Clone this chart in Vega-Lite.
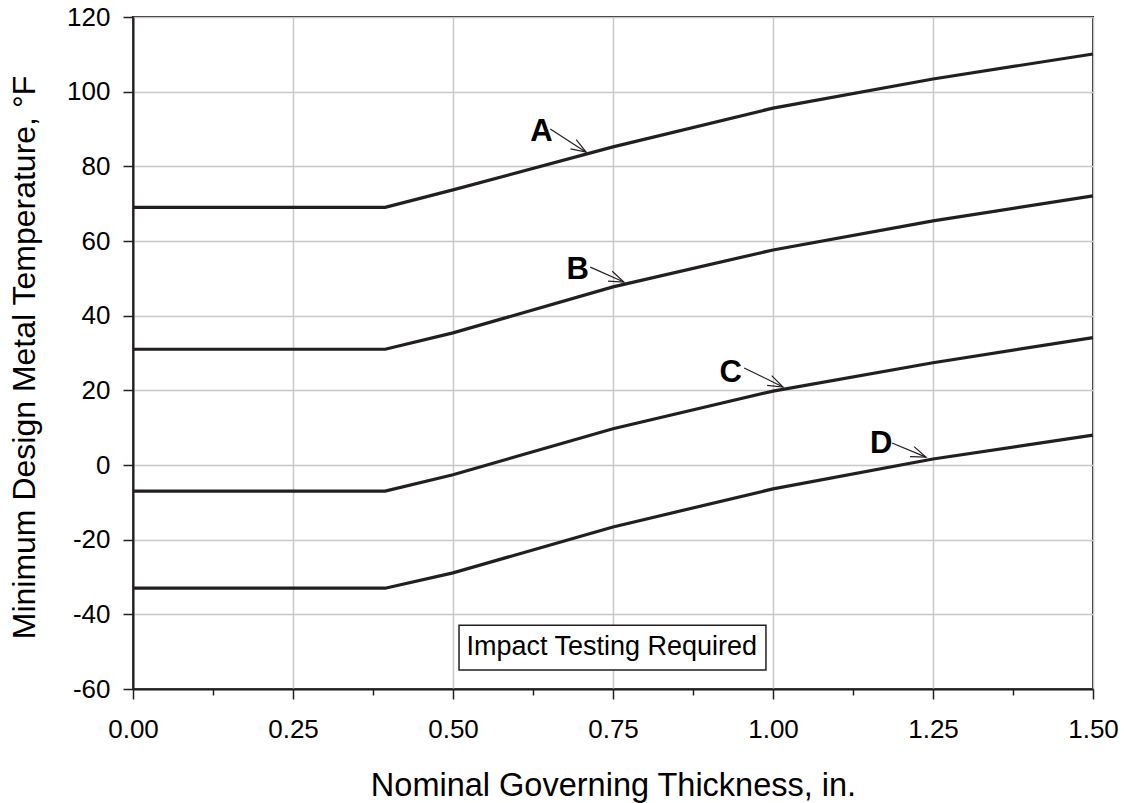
{
  "$schema": "https://vega.github.io/schema/vega-lite/v6.json",
  "width": 960,
  "height": 672,
  "autosize": {"type": "none"},
  "padding": {"left": 133, "top": 17, "right": 31, "bottom": 114},
  "background": "white",
  "config": {
    "view": {"stroke": "#231f20", "strokeWidth": 2},
    "font": "Liberation Sans"
  },
  "datasets": {
    "curves": [
      {"curve": "A", "t": 0, "T": 69}, {"curve": "A", "t": 0.394, "T": 69}, {"curve": "A", "t": 0.5, "T": 73.7}, {"curve": "A", "t": 0.75, "T": 85.2}, {"curve": "A", "t": 1.0, "T": 95.6}, {"curve": "A", "t": 1.25, "T": 103.4}, {"curve": "A", "t": 1.5, "T": 110.1},
      {"curve": "B", "t": 0, "T": 31}, {"curve": "B", "t": 0.394, "T": 31}, {"curve": "B", "t": 0.5, "T": 35.4}, {"curve": "B", "t": 0.75, "T": 47.7}, {"curve": "B", "t": 1.0, "T": 57.6}, {"curve": "B", "t": 1.25, "T": 65.4}, {"curve": "B", "t": 1.5, "T": 72.1},
      {"curve": "C", "t": 0, "T": -7}, {"curve": "C", "t": 0.394, "T": -7}, {"curve": "C", "t": 0.5, "T": -2.6}, {"curve": "C", "t": 0.75, "T": 9.7}, {"curve": "C", "t": 1.0, "T": 19.8}, {"curve": "C", "t": 1.25, "T": 27.4}, {"curve": "C", "t": 1.5, "T": 34.1},
      {"curve": "D", "t": 0, "T": -33}, {"curve": "D", "t": 0.394, "T": -33}, {"curve": "D", "t": 0.5, "T": -28.9}, {"curve": "D", "t": 0.75, "T": -16.6}, {"curve": "D", "t": 1.0, "T": -6.4}, {"curve": "D", "t": 1.25, "T": 1.6}, {"curve": "D", "t": 1.5, "T": 8.0}
    ],
    "arrows": [
      {"label": "A", "lx": 0.638, "ly": 89.1, "x0": 0.652, "y0": 90.0, "x1": 0.708, "y1": 83.8, "dir": 31.9},
      {"label": "B", "lx": 0.695, "ly": 52.2, "x0": 0.7145, "y0": 53.0, "x1": 0.767, "y1": 49.0, "dir": 23.2},
      {"label": "C", "lx": 0.934, "ly": 24.6, "x0": 0.955, "y0": 26.0, "x1": 1.0156, "y1": 20.9, "dir": 25.4},
      {"label": "D", "lx": 1.169, "ly": 5.6, "x0": 1.186, "y0": 5.9, "x1": 1.239, "y1": 2.1, "dir": 21.8}
    ],
    "box": [
      {"text": "Impact Testing Required", "bx1": 0.5094, "bx2": 0.989, "by1": -42.9, "by2": -54.9, "tx": 0.748, "ty": -48.8}
    ]
  },
  "layer": [
    {
      "data": {"name": "curves"},
      "mark": {"type": "line", "color": "#231f20", "strokeWidth": 3.2},
      "encoding": {
        "x": {
          "field": "t", "type": "quantitative",
          "scale": {"domain": [0, 1.5], "nice": false, "zero": false},
          "axis": {
            "title": "Nominal Governing Thickness, in.",
            "values": [0, 0.0625, 0.125, 0.1875, 0.25, 0.3125, 0.375, 0.4375, 0.5, 0.5625, 0.625, 0.6875, 0.75, 0.8125, 0.875, 0.9375, 1, 1.0625, 1.125, 1.1875, 1.25, 1.3125, 1.375, 1.4375, 1.5],
            "labelExpr": "abs(datum.value*4-round(datum.value*4))<0.001 ? format(datum.value, '.2f') : ''",
            "labelOverlap": false,
            "labelFlush": false,
            "grid": true,
            "gridColor": "#c8c8c8",
            "gridWidth": 1.5,
            "gridOpacity": {"condition": {"test": "abs(datum.value*4-round(datum.value*4))<0.001", "value": 1}, "value": 0},
            "tickSize": {"condition": {"test": "abs(datum.value*4-round(datum.value*4))<0.001", "value": 10}, "value": 6},
            "tickColor": "#231f20",
            "tickWidth": 1.5,
            "domainColor": "#231f20",
            "domainWidth": 2,
            "labelFontSize": 26,
            "labelColor": "black",
            "labelBaseline": "alphabetic",
            "labelPadding": 38,
            "titleFontSize": 32.5,
            "titleFontWeight": "normal",
            "titleColor": "black",
            "titleBaseline": "alphabetic",
            "titleY": 106
          }
        },
        "y": {
          "field": "T", "type": "quantitative",
          "scale": {"domain": [-60, 120], "nice": false, "zero": false},
          "axis": {
            "title": "Minimum Design Metal Temperature, °F",
            "values": [-60, -40, -20, 0, 20, 40, 60, 80, 100, 120],
            "labelExpr": "'' + datum.value",
            "grid": true,
            "gridColor": "#c8c8c8",
            "gridWidth": 1.5,
            "tickSize": 10,
            "tickColor": "#231f20",
            "tickWidth": 1.5,
            "domainColor": "#231f20",
            "domainWidth": 2,
            "labelFontSize": 26,
            "labelColor": "black",
            "labelPadding": 13,
            "titleFontSize": 32,
            "titleFontWeight": "normal",
            "titleColor": "black",
            "titleBaseline": "alphabetic",
            "titleX": -99,
            "titleY": 340
          }
        },
        "detail": {"field": "curve"}
      }
    },
    {
      "data": {"name": "arrows"},
      "mark": {"type": "rule", "color": "#231f20", "strokeWidth": 1.2},
      "encoding": {
        "x": {"field": "x0", "type": "quantitative"},
        "y": {"field": "y0", "type": "quantitative"},
        "x2": {"field": "x1"},
        "y2": {"field": "y1"}
      }
    },
    {
      "data": {"name": "arrows"},
      "mark": {"type": "point", "shape": "M-1,-0.36L0,0L-1,0.36", "filled": false, "color": "#231f20", "strokeWidth": 1.2, "size": 900, "opacity": 1},
      "encoding": {
        "x": {"field": "x1", "type": "quantitative"},
        "y": {"field": "y1", "type": "quantitative"},
        "angle": {"field": "dir", "type": "quantitative", "scale": null}
      }
    },
    {
      "data": {"name": "arrows"},
      "mark": {"type": "text", "fontSize": 31, "fontWeight": "bold", "color": "black", "align": "center", "baseline": "middle"},
      "encoding": {
        "x": {"field": "lx", "type": "quantitative"},
        "y": {"field": "ly", "type": "quantitative"},
        "text": {"field": "label"}
      }
    },
    {
      "data": {"name": "box"},
      "mark": {"type": "rect", "fill": "white", "stroke": "#231f20", "strokeWidth": 1.5},
      "encoding": {
        "x": {"field": "bx1", "type": "quantitative"},
        "x2": {"field": "bx2"},
        "y": {"field": "by1", "type": "quantitative"},
        "y2": {"field": "by2"}
      }
    },
    {
      "data": {"name": "box"},
      "mark": {"type": "text", "fontSize": 27, "color": "black", "align": "center", "baseline": "middle"},
      "encoding": {
        "x": {"field": "tx", "type": "quantitative"},
        "y": {"field": "ty", "type": "quantitative"},
        "text": {"field": "text"}
      }
    }
  ]
}
